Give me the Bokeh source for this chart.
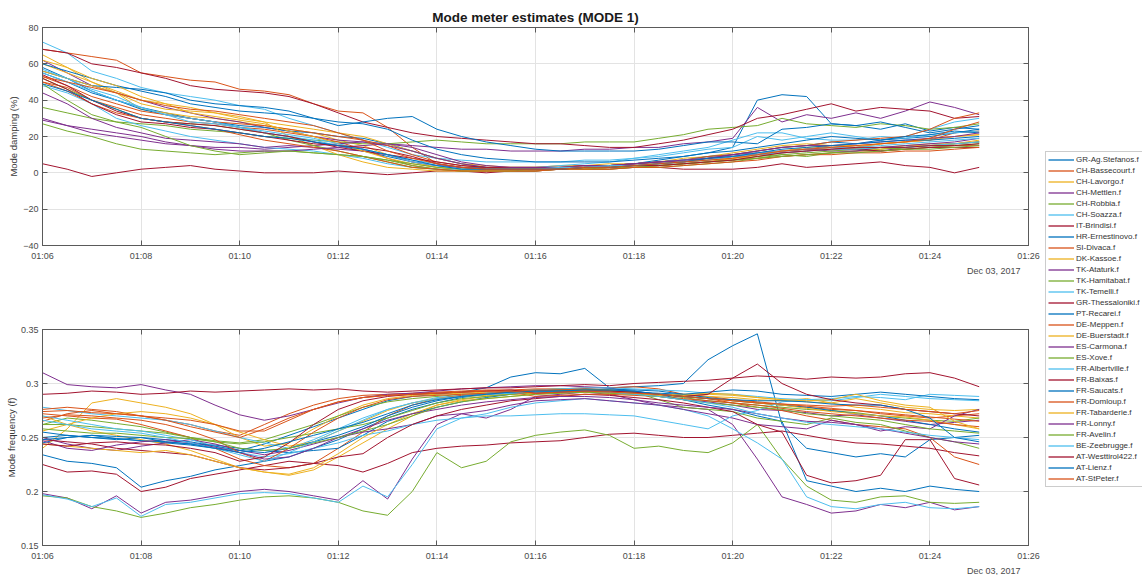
import pandas as pd
from bokeh.plotting import figure
from bokeh.layouts import row, column
from bokeh.models import (Range1d, FixedTicker, DatetimeTickFormatter, DatetimeAxis,
                          LinearAxis, Title, Legend, LegendItem, CustomJSTickFormatter)
from bokeh.embed import file_html
from bokeh.resources import INLINE

# ---------------------------------------------------------------- data
stations = [
    "GR-Ag.Stefanos.f", "CH-Bassecourt.f", "CH-Lavorgo.f", "CH-Mettlen.f", "CH-Robbia.f",
    "CH-Soazza.f", "IT-Brindisi.f", "HR-Ernestinovo.f", "SI-Divaca.f", "DK-Kassoe.f",
    "TK-Ataturk.f", "TK-Hamitabat.f", "TK-Temelli.f", "GR-Thessaloniki.f", "PT-Recarei.f",
    "DE-Meppen.f", "DE-Buerstadt.f", "ES-Carmona.f", "ES-Xove.f", "FR-Albertville.f",
    "FR-Baixas.f", "FR-Saucats.f", "FR-Domloup.f", "FR-Tabarderie.f", "FR-Lonny.f",
    "FR-Avelin.f", "BE-Zeebrugge.f", "AT-Westtirol422.f", "AT-Lienz.f", "AT-StPeter.f",
]

# estimates every 30 s, 01:06:00 .. 01:25:00
times = pd.date_range("2017-12-03 01:06:00", "2017-12-03 01:25:00", freq="30s")

# mode damping (%)
d01 = [55, 50, 44, 40, 36, 33, 30, 28, 25, 22, 20, 17, 15, 12, 9, 6, 4, 3, 3, 2,
       2, 3, 3, 4, 5, 7, 9, 11, 14, 40, 43, 42, 27, 26, 24, 27, 23, 25, 24]
d02 = [68, 66, 64, 62, 55, 53, 51, 50, 46, 45, 43, 38, 34, 33, 25, 14, 5, 3, 2, 2,
       2, 2, 2, 3, 3, 4, 5, 6, 8, 10, 12, 13, 15, 14, 16, 17, 18, 22, 23]
d03 = [65, 58, 50, 44, 35, 33, 31, 30, 28, 26, 24, 22, 18, 15, 10, 6, 3, 2, 2, 3,
       3, 4, 4, 5, 5, 6, 8, 9, 11, 13, 15, 16, 15, 14, 16, 17, 18, 20, 21]
d04 = [62, 55, 48, 44, 40, 36, 33, 30, 28, 25, 23, 20, 18, 17, 16, 15, 14, 13, 13, 12,
       12, 12, 13, 13, 14, 14, 16, 17, 19, 36, 28, 32, 30, 33, 30, 34, 39, 36, 32]
d05 = [36, 33, 30, 28, 27, 26, 24, 23, 22, 20, 19, 18, 17, 16, 16, 17, 18, 17, 16, 16,
       16, 16, 17, 17, 17, 19, 21, 24, 25, 26, 30, 27, 26, 25, 27, 26, 24, 25, 27]
d06 = [72, 66, 56, 52, 47, 44, 42, 40, 37, 35, 30, 26, 22, 18, 14, 10, 8, 7, 6, 6,
       6, 6, 7, 7, 8, 9, 11, 13, 14, 20, 18, 20, 22, 20, 18, 20, 24, 28, 30]
d07 = [5, 2, -2, 0, 2, 3, 4, 2, 1, 0, 0, 0, 1, 0, -1, 0, 1, 1, 0, 1,
       1, 2, 2, 2, 3, 3, 2, 2, 2, 3, 5, 3, 4, 5, 6, 4, 3, 0, 3]
d08 = [58, 52, 45, 40, 35, 32, 30, 28, 26, 25, 23, 22, 20, 19, 16, 12, 8, 5, 3, 2,
       2, 2, 3, 4, 5, 6, 7, 9, 10, 12, 14, 15, 17, 16, 18, 19, 20, 22, 24]
d09 = [50, 47, 40, 36, 32, 30, 28, 27, 25, 24, 22, 20, 17, 13, 8, 4, 2, 1, 1, 1,
       1, 2, 2, 3, 3, 4, 5, 6, 7, 8, 9, 10, 11, 12, 12, 13, 14, 15, 15]
d10 = [60, 55, 50, 45, 40, 38, 36, 33, 30, 28, 26, 24, 22, 20, 16, 12, 8, 5, 4, 3,
       3, 3, 3, 4, 5, 5, 6, 8, 9, 11, 12, 13, 14, 13, 14, 15, 16, 16, 17]
d11 = [30, 26, 22, 20, 18, 16, 15, 14, 14, 13, 14, 15, 16, 17, 15, 12, 8, 5, 3, 2,
       2, 2, 3, 3, 4, 5, 6, 7, 9, 10, 12, 13, 14, 13, 12, 14, 15, 16, 17]
d12 = [27, 23, 20, 16, 13, 12, 11, 10, 11, 12, 12, 11, 10, 9, 7, 4, 2, 1, 1, 1,
       1, 2, 2, 2, 3, 3, 4, 5, 6, 8, 10, 9, 11, 12, 13, 14, 15, 16, 17]
d13 = [48, 44, 38, 30, 26, 23, 20, 18, 16, 14, 13, 12, 10, 8, 5, 3, 2, 2, 2, 3,
       3, 4, 5, 6, 8, 10, 12, 14, 18, 22, 22, 19, 18, 18, 20, 19, 21, 22, 23]
d14 = [68, 66, 60, 58, 55, 52, 48, 46, 45, 44, 42, 38, 33, 28, 25, 22, 20, 19, 18, 17,
       16, 16, 15, 14, 14, 16, 18, 21, 24, 30, 32, 35, 38, 34, 36, 35, 34, 30, 31]
d15 = [56, 52, 48, 47, 46, 44, 40, 38, 37, 36, 34, 30, 26, 28, 30, 31, 24, 20, 17, 15,
       13, 12, 12, 12, 12, 13, 15, 17, 17, 16, 24, 25, 27, 26, 28, 25, 22, 24, 26]
d16 = [53, 48, 42, 38, 34, 32, 30, 28, 27, 26, 24, 22, 20, 18, 15, 10, 6, 4, 3, 3,
       3, 3, 4, 4, 5, 6, 7, 9, 10, 12, 14, 15, 17, 18, 19, 20, 24, 30, 33]
d17 = [56, 52, 48, 44, 38, 35, 34, 33, 31, 28, 20, 15, 10, 6, 3, 2, 1, 1, 1, 1,
       2, 2, 2, 3, 3, 4, 5, 6, 8, 9, 11, 12, 14, 13, 13, 15, 15, 16, 18]
d18 = [44, 38, 30, 25, 22, 19, 18, 17, 16, 14, 15, 14, 13, 12, 10, 6, 4, 3, 2, 2,
       2, 3, 3, 4, 5, 6, 7, 8, 10, 11, 12, 13, 12, 12, 14, 15, 16, 17, 19]
d19 = [52, 46, 40, 35, 30, 28, 27, 26, 24, 22, 18, 15, 12, 9, 6, 3, 2, 1, 1, 1,
       2, 2, 2, 3, 3, 4, 5, 6, 7, 9, 10, 11, 12, 13, 14, 13, 14, 15, 16]
d20 = [55, 50, 45, 40, 36, 32, 30, 28, 25, 22, 20, 18, 15, 13, 10, 7, 5, 3, 2, 2,
       2, 3, 3, 4, 5, 6, 7, 8, 9, 11, 12, 13, 14, 14, 15, 16, 17, 18, 19]
d21 = [54, 48, 40, 34, 30, 28, 27, 26, 24, 22, 20, 17, 14, 12, 10, 8, 6, 4, 3, 3,
       3, 3, 4, 4, 5, 6, 6, 8, 9, 10, 11, 12, 13, 13, 12, 13, 14, 14, 14]
d22 = [60, 56, 52, 48, 45, 42, 38, 36, 34, 33, 32, 30, 28, 27, 24, 18, 13, 10, 8, 7,
       6, 6, 6, 6, 7, 8, 9, 11, 12, 14, 16, 18, 20, 19, 18, 20, 21, 23, 22]
d23 = [50, 45, 38, 33, 30, 28, 26, 24, 21, 18, 16, 14, 12, 9, 6, 3, 2, 1, 1, 1,
       1, 2, 2, 2, 3, 3, 4, 5, 6, 7, 9, 10, 10, 11, 11, 12, 12, 13, 14]
d24 = [62, 58, 52, 48, 42, 38, 33, 31, 29, 27, 23, 20, 16, 12, 8, 5, 3, 2, 2, 2,
       2, 3, 3, 3, 4, 5, 6, 7, 8, 10, 12, 14, 15, 15, 16, 17, 19, 20, 21]
d25 = [29, 26, 24, 22, 20, 17, 15, 13, 12, 12, 12, 13, 14, 15, 16, 14, 10, 6, 4, 3,
       3, 3, 4, 4, 5, 6, 7, 8, 10, 12, 14, 15, 15, 16, 17, 18, 19, 20, 22]
d26 = [49, 40, 32, 28, 25, 20, 15, 12, 10, 11, 12, 11, 10, 9, 7, 5, 3, 2, 2, 2,
       2, 2, 3, 3, 4, 4, 5, 6, 7, 8, 9, 10, 11, 11, 12, 13, 13, 14, 15]
d27 = [57, 52, 46, 42, 36, 32, 28, 27, 25, 23, 21, 19, 16, 13, 10, 6, 4, 2, 2, 2,
       2, 3, 3, 4, 4, 5, 6, 7, 9, 10, 11, 12, 13, 13, 14, 14, 15, 16, 17]
d28 = [52, 46, 38, 32, 28, 27, 25, 24, 22, 20, 18, 16, 15, 14, 12, 9, 5, 3, 2, 2,
       2, 2, 3, 3, 4, 4, 5, 6, 7, 9, 11, 12, 13, 14, 14, 14, 15, 15, 16]
d29 = [49, 45, 40, 35, 30, 28, 26, 24, 22, 20, 19, 17, 15, 13, 10, 7, 4, 2, 2, 2,
       2, 2, 3, 3, 4, 5, 6, 8, 9, 11, 13, 14, 15, 16, 17, 18, 18, 19, 20]
d30 = [53, 50, 47, 44, 40, 37, 35, 34, 32, 30, 28, 26, 22, 18, 12, 8, 5, 3, 2, 2,
       2, 2, 3, 3, 4, 5, 6, 7, 8, 10, 12, 13, 14, 15, 16, 17, 19, 24, 28]

# mode frequency (Hz)
f01 = [0.245, 0.250, 0.252, 0.249, 0.247, 0.245, 0.243, 0.240, 0.238, 0.244,
       0.252, 0.260, 0.268, 0.276, 0.284, 0.288, 0.290, 0.292, 0.296, 0.306,
       0.310, 0.309, 0.314, 0.296, 0.297, 0.298, 0.300, 0.322, 0.335, 0.346,
       0.262, 0.240, 0.236, 0.232, 0.235, 0.232, 0.248, 0.250, 0.252]
f02 = [0.265, 0.272, 0.275, 0.272, 0.270, 0.266, 0.262, 0.256, 0.252, 0.262,
       0.272, 0.280, 0.286, 0.289, 0.290, 0.291, 0.292, 0.293, 0.294, 0.294,
       0.295, 0.295, 0.296, 0.296, 0.297, 0.295, 0.290, 0.288, 0.285, 0.282,
       0.280, 0.278, 0.276, 0.275, 0.272, 0.270, 0.268, 0.270, 0.272]
f03 = [0.240, 0.258, 0.282, 0.286, 0.282, 0.278, 0.272, 0.262, 0.250, 0.242,
       0.245, 0.258, 0.270, 0.280, 0.286, 0.289, 0.290, 0.291, 0.292, 0.292,
       0.293, 0.294, 0.293, 0.292, 0.291, 0.290, 0.289, 0.288, 0.287, 0.285,
       0.284, 0.286, 0.282, 0.278, 0.276, 0.273, 0.272, 0.270, 0.268]
f04 = [0.310, 0.299, 0.297, 0.296, 0.299, 0.294, 0.290, 0.280, 0.271, 0.266,
       0.270, 0.276, 0.282, 0.287, 0.290, 0.291, 0.293, 0.295, 0.296, 0.297,
       0.298, 0.298, 0.297, 0.296, 0.292, 0.288, 0.285, 0.283, 0.280, 0.276,
       0.275, 0.273, 0.270, 0.271, 0.268, 0.265, 0.262, 0.264, 0.266]
f05 = [0.262, 0.268, 0.266, 0.263, 0.260, 0.255, 0.250, 0.247, 0.245, 0.248,
       0.255, 0.262, 0.270, 0.278, 0.283, 0.286, 0.288, 0.290, 0.291, 0.293,
       0.294, 0.295, 0.294, 0.293, 0.292, 0.290, 0.287, 0.284, 0.282, 0.280,
       0.278, 0.276, 0.275, 0.273, 0.270, 0.268, 0.266, 0.265, 0.268]
f06 = [0.278, 0.275, 0.272, 0.270, 0.268, 0.266, 0.262, 0.256, 0.250, 0.245,
       0.240, 0.248, 0.258, 0.268, 0.276, 0.282, 0.287, 0.289, 0.291, 0.293,
       0.294, 0.295, 0.296, 0.296, 0.295, 0.294, 0.293, 0.291, 0.290, 0.288,
       0.286, 0.285, 0.284, 0.287, 0.290, 0.288, 0.286, 0.285, 0.284]
f07 = [0.225, 0.218, 0.219, 0.216, 0.200, 0.204, 0.212, 0.216, 0.220, 0.224,
       0.228, 0.226, 0.224, 0.218, 0.226, 0.236, 0.240, 0.242, 0.243, 0.245,
       0.246, 0.247, 0.250, 0.253, 0.254, 0.252, 0.250, 0.250, 0.252, 0.254,
       0.256, 0.252, 0.248, 0.245, 0.244, 0.242, 0.240, 0.236, 0.233]
f08 = [0.234, 0.228, 0.226, 0.222, 0.204, 0.210, 0.214, 0.220, 0.224, 0.228,
       0.232, 0.240, 0.248, 0.258, 0.268, 0.276, 0.282, 0.287, 0.290, 0.292,
       0.293, 0.294, 0.294, 0.295, 0.294, 0.293, 0.290, 0.287, 0.284, 0.282,
       0.280, 0.278, 0.275, 0.272, 0.270, 0.266, 0.262, 0.258, 0.255]
f09 = [0.272, 0.270, 0.268, 0.267, 0.262, 0.256, 0.250, 0.240, 0.230, 0.224,
       0.222, 0.226, 0.240, 0.255, 0.270, 0.280, 0.286, 0.289, 0.290, 0.292,
       0.293, 0.294, 0.294, 0.293, 0.292, 0.290, 0.288, 0.286, 0.285, 0.283,
       0.281, 0.279, 0.277, 0.275, 0.273, 0.271, 0.269, 0.267, 0.265]
f10 = [0.270, 0.262, 0.256, 0.252, 0.248, 0.244, 0.238, 0.230, 0.222, 0.218,
       0.215, 0.220, 0.232, 0.245, 0.258, 0.270, 0.280, 0.285, 0.288, 0.290,
       0.291, 0.292, 0.293, 0.292, 0.290, 0.289, 0.288, 0.286, 0.284, 0.282,
       0.280, 0.277, 0.274, 0.272, 0.270, 0.269, 0.266, 0.262, 0.258]
f11 = [0.198, 0.194, 0.184, 0.196, 0.180, 0.190, 0.192, 0.196, 0.200, 0.202,
       0.200, 0.196, 0.192, 0.210, 0.193, 0.230, 0.262, 0.272, 0.268, 0.276,
       0.288, 0.290, 0.292, 0.290, 0.285, 0.280, 0.278, 0.276, 0.262, 0.230,
       0.195, 0.188, 0.180, 0.182, 0.188, 0.185, 0.190, 0.183, 0.186]
f12 = [0.196, 0.194, 0.186, 0.182, 0.176, 0.180, 0.185, 0.188, 0.192, 0.195,
       0.196, 0.194, 0.190, 0.182, 0.178, 0.200, 0.236, 0.222, 0.228, 0.246,
       0.252, 0.255, 0.257, 0.252, 0.240, 0.242, 0.238, 0.236, 0.245, 0.262,
       0.230, 0.205, 0.192, 0.190, 0.195, 0.196, 0.190, 0.189, 0.190]
f13 = [0.197, 0.193, 0.186, 0.194, 0.177, 0.188, 0.190, 0.194, 0.198, 0.199,
       0.198, 0.194, 0.190, 0.205, 0.195, 0.225, 0.258, 0.268, 0.272, 0.278,
       0.282, 0.284, 0.286, 0.284, 0.282, 0.280, 0.276, 0.270, 0.258, 0.245,
       0.230, 0.195, 0.186, 0.184, 0.188, 0.190, 0.185, 0.184, 0.186]
f14 = [0.290, 0.291, 0.293, 0.292, 0.290, 0.291, 0.293, 0.292, 0.293, 0.294,
       0.295, 0.294, 0.295, 0.293, 0.292, 0.293, 0.294, 0.295, 0.296, 0.296,
       0.297, 0.298, 0.299, 0.298, 0.300, 0.301, 0.302, 0.303, 0.305, 0.307,
       0.306, 0.304, 0.306, 0.305, 0.306, 0.309, 0.310, 0.305, 0.297]
f15 = [0.255, 0.252, 0.250, 0.249, 0.247, 0.246, 0.244, 0.243, 0.240, 0.238,
       0.236, 0.238, 0.240, 0.252, 0.265, 0.272, 0.278, 0.283, 0.287, 0.290,
       0.292, 0.293, 0.295, 0.294, 0.293, 0.290, 0.285, 0.280, 0.276, 0.270,
       0.265, 0.210, 0.205, 0.200, 0.203, 0.200, 0.205, 0.202, 0.200]
f16 = [0.276, 0.278, 0.276, 0.274, 0.270, 0.266, 0.260, 0.255, 0.250, 0.258,
       0.268, 0.276, 0.283, 0.287, 0.289, 0.290, 0.291, 0.292, 0.293, 0.293,
       0.294, 0.294, 0.295, 0.294, 0.292, 0.290, 0.288, 0.286, 0.282, 0.278,
       0.275, 0.270, 0.266, 0.262, 0.260, 0.258, 0.250, 0.232, 0.225]
f17 = [0.256, 0.262, 0.268, 0.272, 0.274, 0.272, 0.268, 0.262, 0.255, 0.248,
       0.242, 0.246, 0.256, 0.265, 0.275, 0.282, 0.286, 0.288, 0.289, 0.290,
       0.291, 0.292, 0.292, 0.291, 0.290, 0.289, 0.290, 0.291, 0.290, 0.287,
       0.285, 0.283, 0.282, 0.286, 0.282, 0.278, 0.276, 0.275, 0.276]
f18 = [0.250, 0.244, 0.240, 0.238, 0.242, 0.245, 0.248, 0.244, 0.238, 0.234,
       0.238, 0.244, 0.250, 0.255, 0.258, 0.262, 0.270, 0.272, 0.275, 0.280,
       0.284, 0.285, 0.286, 0.284, 0.282, 0.280, 0.276, 0.272, 0.268, 0.262,
       0.260, 0.258, 0.266, 0.262, 0.256, 0.260, 0.258, 0.270, 0.276]
f19 = [0.262, 0.262, 0.260, 0.258, 0.256, 0.254, 0.250, 0.246, 0.244, 0.246,
       0.250, 0.254, 0.258, 0.262, 0.268, 0.275, 0.282, 0.286, 0.288, 0.290,
       0.292, 0.293, 0.294, 0.294, 0.292, 0.285, 0.278, 0.276, 0.274, 0.268,
       0.265, 0.262, 0.268, 0.264, 0.262, 0.256, 0.250, 0.246, 0.240]
f20 = [0.270, 0.266, 0.262, 0.258, 0.256, 0.252, 0.248, 0.242, 0.236, 0.232,
       0.235, 0.240, 0.245, 0.252, 0.256, 0.262, 0.266, 0.268, 0.270, 0.270,
       0.271, 0.272, 0.272, 0.271, 0.270, 0.266, 0.262, 0.258, 0.270, 0.275,
       0.283, 0.285, 0.286, 0.288, 0.287, 0.285, 0.290, 0.289, 0.288]
f21 = [0.248, 0.246, 0.244, 0.240, 0.238, 0.236, 0.234, 0.228, 0.222, 0.220,
       0.222, 0.226, 0.232, 0.235, 0.250, 0.262, 0.270, 0.276, 0.280, 0.284,
       0.286, 0.288, 0.290, 0.289, 0.287, 0.285, 0.282, 0.278, 0.274, 0.262,
       0.255, 0.215, 0.208, 0.210, 0.215, 0.248, 0.248, 0.212, 0.206]
f22 = [0.248, 0.250, 0.252, 0.251, 0.250, 0.248, 0.246, 0.242, 0.238, 0.236,
       0.240, 0.246, 0.252, 0.260, 0.270, 0.278, 0.284, 0.288, 0.290, 0.291,
       0.292, 0.293, 0.293, 0.292, 0.292, 0.291, 0.290, 0.292, 0.294, 0.293,
       0.290, 0.289, 0.288, 0.290, 0.292, 0.290, 0.288, 0.286, 0.285]
f23 = [0.268, 0.271, 0.270, 0.268, 0.266, 0.262, 0.256, 0.248, 0.236, 0.228,
       0.240, 0.255, 0.268, 0.278, 0.285, 0.288, 0.289, 0.290, 0.291, 0.292,
       0.288, 0.289, 0.290, 0.290, 0.289, 0.288, 0.286, 0.284, 0.282, 0.280,
       0.277, 0.274, 0.272, 0.270, 0.268, 0.266, 0.265, 0.262, 0.260]
f24 = [0.244, 0.242, 0.240, 0.238, 0.236, 0.238, 0.234, 0.228, 0.222, 0.218,
       0.216, 0.222, 0.235, 0.250, 0.262, 0.272, 0.280, 0.284, 0.286, 0.288,
       0.290, 0.291, 0.292, 0.292, 0.291, 0.290, 0.289, 0.290, 0.289, 0.287,
       0.285, 0.284, 0.285, 0.290, 0.284, 0.280, 0.278, 0.265, 0.258]
f25 = [0.247, 0.240, 0.238, 0.243, 0.246, 0.248, 0.245, 0.241, 0.236, 0.230,
       0.232, 0.240, 0.250, 0.258, 0.266, 0.272, 0.276, 0.280, 0.283, 0.285,
       0.287, 0.288, 0.288, 0.287, 0.285, 0.282, 0.280, 0.278, 0.276, 0.272,
       0.268, 0.265, 0.264, 0.262, 0.258, 0.254, 0.250, 0.246, 0.244]
f26 = [0.258, 0.256, 0.254, 0.254, 0.252, 0.250, 0.249, 0.246, 0.240, 0.238,
       0.240, 0.245, 0.250, 0.256, 0.262, 0.270, 0.278, 0.283, 0.286, 0.288,
       0.290, 0.291, 0.292, 0.291, 0.290, 0.288, 0.285, 0.282, 0.280, 0.278,
       0.276, 0.272, 0.270, 0.268, 0.266, 0.262, 0.258, 0.256, 0.254]
f27 = [0.266, 0.262, 0.258, 0.256, 0.254, 0.250, 0.245, 0.240, 0.234, 0.228,
       0.236, 0.246, 0.256, 0.266, 0.276, 0.282, 0.286, 0.288, 0.290, 0.291,
       0.292, 0.292, 0.293, 0.292, 0.290, 0.288, 0.285, 0.282, 0.278, 0.272,
       0.268, 0.264, 0.262, 0.260, 0.258, 0.255, 0.252, 0.250, 0.248]
f28 = [0.244, 0.242, 0.245, 0.246, 0.244, 0.243, 0.240, 0.236, 0.228, 0.232,
       0.245, 0.262, 0.276, 0.284, 0.288, 0.290, 0.291, 0.292, 0.293, 0.294,
       0.291, 0.292, 0.293, 0.293, 0.292, 0.290, 0.288, 0.290, 0.305, 0.318,
       0.300, 0.290, 0.285, 0.282, 0.280, 0.276, 0.274, 0.272, 0.270]
f29 = [0.250, 0.252, 0.250, 0.248, 0.250, 0.246, 0.244, 0.240, 0.236, 0.240,
       0.246, 0.252, 0.258, 0.264, 0.272, 0.280, 0.285, 0.288, 0.290, 0.292,
       0.293, 0.293, 0.294, 0.294, 0.293, 0.290, 0.288, 0.286, 0.285, 0.284,
       0.284, 0.283, 0.281, 0.280, 0.280, 0.276, 0.268, 0.250, 0.246]
f30 = [0.274, 0.275, 0.273, 0.272, 0.270, 0.268, 0.266, 0.262, 0.256, 0.256,
       0.266, 0.276, 0.283, 0.287, 0.289, 0.290, 0.291, 0.292, 0.293, 0.293,
       0.291, 0.292, 0.293, 0.292, 0.291, 0.290, 0.288, 0.286, 0.284, 0.282,
       0.281, 0.280, 0.279, 0.280, 0.278, 0.276, 0.274, 0.272, 0.275]

damping = [d01, d02, d03, d04, d05, d06, d07, d08, d09, d10, d11, d12, d13, d14, d15,
           d16, d17, d18, d19, d20, d21, d22, d23, d24, d25, d26, d27, d28, d29, d30]
frequency = [f01, f02, f03, f04, f05, f06, f07, f08, f09, f10, f11, f12, f13, f14, f15,
             f16, f17, f18, f19, f20, f21, f22, f23, f24, f25, f26, f27, f28, f29, f30]

x_ticks = pd.date_range("2017-12-03 01:06", "2017-12-03 01:26", freq="2min")
damp_ticks = [-40, -20, 0, 20, 40, 60, 80]
freq_ticks = [0.15, 0.2, 0.25, 0.3, 0.35]
freq_tick_labels = {0.15: "0.15", 0.2: "0.2", 0.25: "0.25", 0.3: "0.3", 0.35: "0.35"}

# ---------------------------------------------------------------- style
palette = ["#0072BD", "#D95319", "#EDB120", "#7E2F8E", "#77AC30", "#4DBEEE", "#A2142F"]
FONT = "Liberation Sans"
AXIS_COLOR = "#5a5a5a"
TEXT_COLOR = "#4a4a4a"

x_ms = [t.value // 10**6 for t in x_ticks]
x_start = pd.Timestamp("2017-12-03 01:06").to_pydatetime()
x_end = pd.Timestamp("2017-12-03 01:26").to_pydatetime()
blank = CustomJSTickFormatter(code="return '';")


def style_axis(ax):
    ax.axis_line_color = AXIS_COLOR
    ax.major_tick_line_color = AXIS_COLOR
    ax.major_tick_in = 5
    ax.major_tick_out = 0
    ax.minor_tick_line_color = None
    ax.major_label_text_font = FONT
    ax.major_label_text_font_size = "9px"
    ax.major_label_text_color = TEXT_COLOR
    ax.major_label_standoff = 4


def make_panel(values, ylabel, yrange, yticks, height, top, bottom,
               title=None, overrides=None, label_standoff=0):
    p = figure(width=1040, height=height, x_axis_type="datetime",
               x_range=Range1d(x_start, x_end), y_range=Range1d(*yrange),
               output_backend="svg", toolbar_location=None,
               min_border_left=42, min_border_right=12,
               min_border_top=top, min_border_bottom=bottom)
    p.outline_line_color = AXIS_COLOR
    p.background_fill_color = "white"
    p.border_fill_color = "white"

    xt = FixedTicker(ticks=x_ms)
    fmt = DatetimeTickFormatter(minutes="%H:%M", hourmin="%H:%M", hours="%H:%M",
                                minsec="%H:%M", seconds="%H:%M")
    p.xaxis.ticker = xt
    p.xaxis.formatter = fmt
    p.yaxis.ticker = FixedTicker(ticks=yticks)
    if overrides:
        p.yaxis.major_label_overrides = overrides
    style_axis(p.xaxis[0])
    style_axis(p.yaxis[0])
    p.xaxis.major_label_standoff = 5
    p.yaxis.axis_label = ylabel
    p.yaxis.axis_label_text_font = FONT
    p.yaxis.axis_label_text_font_size = "9.5px"
    p.yaxis.axis_label_text_font_style = "normal"
    p.yaxis.axis_label_text_color = "#3a3a3a"
    p.yaxis.axis_label_standoff = label_standoff

    # box ticks on the top and right edges
    top_ax = DatetimeAxis(ticker=xt, formatter=blank)
    style_axis(top_ax)
    top_ax.major_label_standoff = 0
    p.add_layout(top_ax, "above")
    right_ax = LinearAxis(ticker=FixedTicker(ticks=yticks), formatter=blank)
    style_axis(right_ax)
    right_ax.major_label_standoff = 0
    p.add_layout(right_ax, "right")

    p.xgrid.grid_line_color = "#e3e3e3"
    p.ygrid.grid_line_color = "#e3e3e3"
    p.xgrid.ticker = xt
    p.ygrid.ticker = FixedTicker(ticks=yticks)

    if title:
        p.title.text = title
        p.title.align = "center"
        p.title.text_font = FONT
        p.title.text_font_size = "13.5px"
        p.title.text_font_style = "bold"
        p.title.text_color = "#1a1a1a"
        p.title.standoff = 5

    date_note = Title(text="Dec 03, 2017", align="right", text_font=FONT,
                      text_font_size="9px", text_font_style="normal",
                      text_color=TEXT_COLOR, offset=8, standoff=0)
    p.add_layout(date_note, "below")

    for i, ys in enumerate(values):
        p.line(x=times, y=ys, line_color=palette[i % 7], line_width=1.0)
    return p


p_damp = make_panel(damping, "Mode damping (%)", (-40, 80), damp_ticks,
                    height=290, top=27, bottom=45, title="Mode meter estimates (MODE 1)",
                    label_standoff=1)
p_freq = make_panel(frequency, "Mode frequency (f)", (0.15, 0.35), freq_ticks,
                    height=285, top=39, bottom=28, overrides=freq_tick_labels,
                    label_standoff=1)

# legend column on the right, shared by both panels; its lines carry the damping
# series but sit outside this small frame, so only the legend swatches show
p_leg = figure(width=102, height=575, output_backend="svg", toolbar_location=None,
               x_axis_location=None, y_axis_location=None, min_border=0,
               x_range=Range1d(0, 1), y_range=Range1d(0, 1))
p_leg.grid.visible = False
p_leg.outline_line_color = None
items = []
for i, name in enumerate(stations):
    r = p_leg.line(x=times, y=damping[i], line_color=palette[i % 7], line_width=1.3)
    items.append(LegendItem(label=name, renderers=[r]))
legend = Legend(items=items, location=(5, 88), spacing=0, padding=2, margin=0,
                label_height=11, glyph_height=11, glyph_width=26, label_standoff=2,
                label_text_font=FONT, label_text_font_size="8px",
                label_text_color="#333333", border_line_color="#9a9a9a",
                border_line_width=1, background_fill_color="white", background_fill_alpha=1)
p_leg.add_layout(legend, "center")

layout = row(column(p_damp, p_freq), p_leg)
open("out.html", "w").write(file_html(layout, INLINE))
